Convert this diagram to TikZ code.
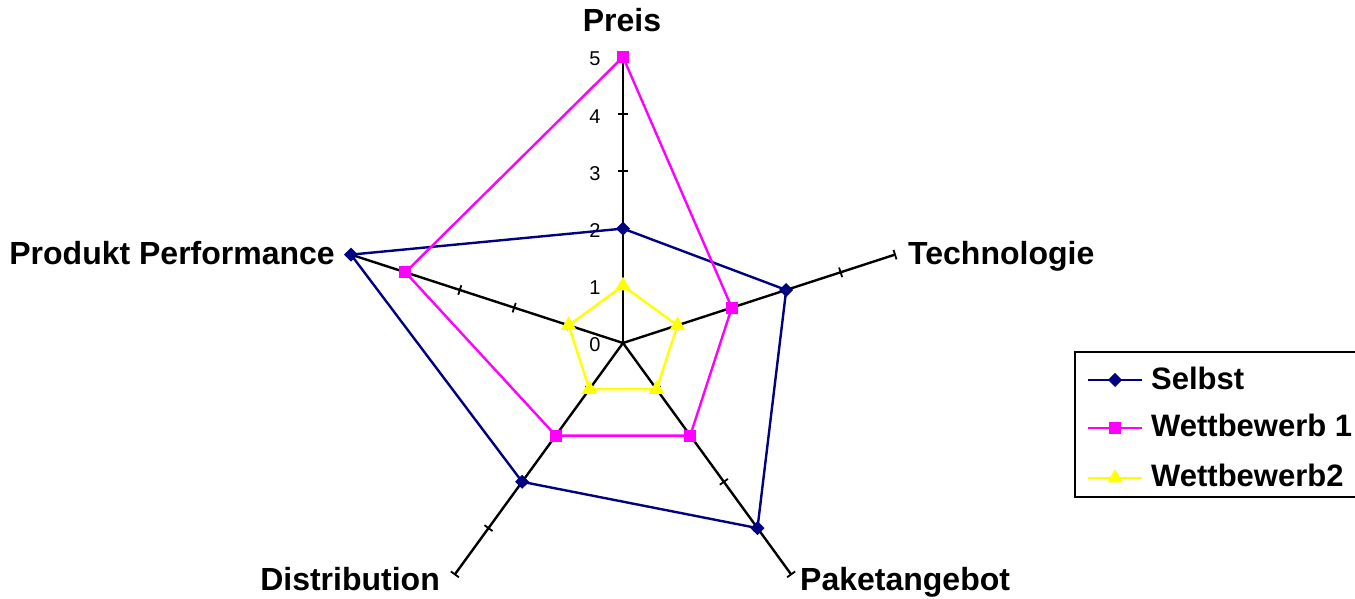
\documentclass[tikz,border=0pt]{standalone}
\usepackage{fontspec}
\setmainfont{Liberation Sans}
\usetikzlibrary{shapes,shapes.geometric,positioning}

\definecolor{selbst}{RGB}{0,0,128}
\definecolor{wbeins}{RGB}{255,0,255}
\definecolor{wbzwei}{RGB}{255,255,0}

\tikzset{
  axislabel/.style={font=\bfseries\fontsize{32}{36}\selectfont,inner sep=0pt},
  legendlabel/.style={font=\bfseries\fontsize{31}{36}\selectfont,inner sep=0pt},
  ticklabel/.style={font=\fontsize{20}{22}\selectfont,inner sep=0pt},
  selbstmark/.style={diamond,fill=selbst,inner sep=0pt,minimum size=15pt},
  wbeinsmark/.style={rectangle,fill=wbeins,inner sep=0pt,minimum size=12pt},
  wbzweimark/.style={regular polygon,regular polygon sides=3,fill=wbzwei,inner sep=0pt,minimum size=18pt},
}

\begin{document}
\begin{tikzpicture}[x=1pt,y=1pt,line width=2.4pt]
    \useasboundingbox (-623,-256) rectangle (732,343);
    % axes with ticks
    \foreach \a/\name in {90/pr,18/te,-54/pa,-126/di,162/pp} {
    	\draw (0,0) -- (\a:286) coordinate (\name);
    	\foreach \k in {1,...,5}
    		\draw[line width=1.8pt] (\a:{57.2*\k}) ++(\a+90:5) -- ++(\a-90:10);
    }
    \foreach \k in {0,...,5}
    	\node[ticklabel] (t\k) at (-28,{57.2*\k-2}) {\k};
    % axis labels
    \node[axislabel,anchor=base] (lpr) at (-1,311) {Preis};
    \node[axislabel,anchor=base west] (lte) at (284,78) {Technologie};
    \node[axislabel,anchor=base west] (lpa) at (176,-247) {Paketangebot};
    \node[axislabel,anchor=base east] (ldi) at (-182,-247) {Distribution};
    \node[axislabel,anchor=base east] (lpp) at (-287,78) {Produkt Performance};
    % series Selbst
    \foreach \a/\v [count=\i] in {90/2,18/3,-54/4,-126/3,162/5}
    	\coordinate (s\i) at (\a:{57.2*\v});
    \draw[selbst] (s1) -- (s2) -- (s3) -- (s4) -- (s5) -- cycle;
    \foreach \i in {1,...,5}
    	\node[selbstmark] at (s\i) {};
    % series Wettbewerb 1
    \foreach \a/\v [count=\i] in {90/5,18/2,-54/2,-126/2,162/4}
    	\coordinate (w\i) at (\a:{57.2*\v});
    \draw[wbeins] (w1) -- (w2) -- (w3) -- (w4) -- (w5) -- cycle;
    \foreach \i in {1,...,5}
    	\node[wbeinsmark] at (w\i) {};
    % series Wettbewerb2
    \foreach \a/\v [count=\i] in {90/1,18/1,-54/1,-126/1,162/1}
    	\coordinate (z\i) at (\a:{57.2*\v});
    \draw[wbzwei] (z1) -- (z2) -- (z3) -- (z4) -- (z5) -- cycle;
    \foreach \i in {1,...,5}
    	\node[wbzweimark] at (z\i) {};
    % legend
    \draw[line width=1.8pt] (452,-9) rectangle (735,-154);
    \foreach \y/\yb/\co/\mk/\txt in {-37/-47/selbst/selbstmark/Selbst, -85/-94/wbeins/wbeinsmark/Wettbewerb 1, -135/-144/wbzwei/wbzweimark/Wettbewerb2} {
    	\draw[color=\co] (465,\y) -- (519,\y);
    	\node[\mk] at (492,\y) {};
    	\node[legendlabel,anchor=base west] at (527,\yb) {\txt};
    }
\end{tikzpicture}
\end{document}
